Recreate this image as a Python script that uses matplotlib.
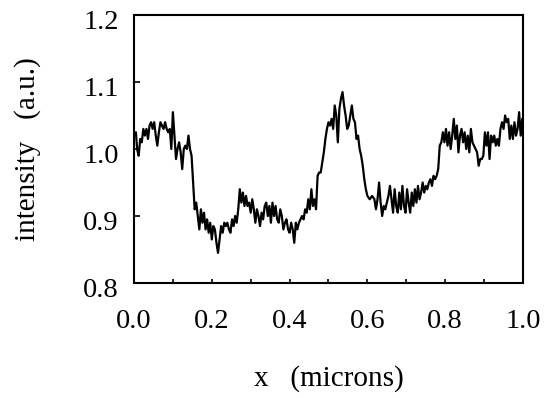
import matplotlib
matplotlib.use("Agg")
import matplotlib.pyplot as plt
import matplotlib.transforms as mtransforms

x_pos = [
    0.000, 0.005, 0.008, 0.012, 0.016, 0.020, 0.024, 0.028, 0.032, 0.036,
    0.040, 0.044, 0.048, 0.052, 0.056, 0.060, 0.064, 0.068, 0.072, 0.076,
    0.080, 0.084, 0.088, 0.092, 0.096, 0.100, 0.104, 0.108, 0.112, 0.116,
    0.120, 0.124, 0.128, 0.132, 0.136, 0.140, 0.144, 0.148, 0.152, 0.156,
    0.160, 0.164, 0.168, 0.172, 0.176, 0.180, 0.184, 0.188, 0.192, 0.196,
    0.200, 0.204, 0.208, 0.212, 0.216, 0.220, 0.224, 0.228, 0.232, 0.236,
    0.240, 0.244, 0.248, 0.252, 0.256, 0.260, 0.264, 0.268, 0.272, 0.276,
    0.280, 0.284, 0.288, 0.292, 0.296, 0.300, 0.304, 0.308, 0.312, 0.316,
    0.320, 0.324, 0.328, 0.332, 0.336, 0.340, 0.344, 0.348, 0.352, 0.356,
    0.360, 0.364, 0.368, 0.372, 0.376, 0.380, 0.384, 0.388, 0.392, 0.396,
    0.400, 0.404, 0.408, 0.412, 0.416, 0.420, 0.424, 0.428, 0.432, 0.436,
    0.440, 0.444, 0.448, 0.452, 0.456, 0.460, 0.464, 0.468, 0.472, 0.476,
    0.480, 0.484, 0.488, 0.492, 0.496, 0.500, 0.504, 0.508, 0.512, 0.516,
    0.520, 0.524, 0.528, 0.532, 0.536, 0.540, 0.544, 0.548, 0.552, 0.556,
    0.560, 0.564, 0.568, 0.572, 0.576, 0.580, 0.584, 0.588, 0.592, 0.596,
    0.600, 0.606, 0.612, 0.618, 0.622, 0.626, 0.630, 0.634, 0.638, 0.642,
    0.646, 0.650, 0.654, 0.658, 0.662, 0.666, 0.670, 0.674, 0.678, 0.682,
    0.686, 0.690, 0.694, 0.698, 0.702, 0.706, 0.710, 0.714, 0.718, 0.722,
    0.726, 0.730, 0.734, 0.738, 0.742, 0.746, 0.750, 0.754, 0.758, 0.762,
    0.766, 0.770, 0.774, 0.778, 0.782, 0.786, 0.790, 0.794, 0.798, 0.802,
    0.806, 0.810, 0.814, 0.818, 0.822, 0.826, 0.830, 0.834, 0.838, 0.842,
    0.846, 0.850, 0.854, 0.858, 0.862, 0.866, 0.870, 0.874, 0.878, 0.882,
    0.886, 0.890, 0.894, 0.898, 0.902, 0.906, 0.910, 0.914, 0.918, 0.922,
    0.926, 0.930, 0.934, 0.938, 0.942, 0.946, 0.950, 0.954, 0.958, 0.962,
    0.966, 0.970, 0.974, 0.978, 0.982, 0.986, 0.990, 0.994, 0.998, 1.000,
]

intensity = [
    1.020, 1.025, 1.000, 0.990, 1.015, 1.010, 1.030, 1.020, 1.030, 1.015,
    1.035, 1.040, 1.030, 1.040, 1.020, 1.005, 1.025, 1.040, 1.035, 1.030,
    1.040, 1.030, 1.025, 1.030, 1.000, 1.055, 1.020, 0.985, 1.000, 1.010,
    0.995, 0.970, 1.000, 1.005, 1.000, 1.020, 1.000, 0.990, 0.950, 0.910,
    0.920, 0.900, 0.880, 0.910, 0.890, 0.905, 0.880, 0.895, 0.875, 0.890,
    0.865, 0.885, 0.880, 0.860, 0.845, 0.865, 0.885, 0.875, 0.890, 0.885,
    0.890, 0.880, 0.875, 0.895, 0.885, 0.900, 0.890, 0.910, 0.940, 0.920,
    0.935, 0.915, 0.930, 0.915, 0.920, 0.905, 0.925, 0.910, 0.890, 0.910,
    0.900, 0.885, 0.905, 0.895, 0.915, 0.920, 0.900, 0.915, 0.890, 0.920,
    0.900, 0.915, 0.895, 0.890, 0.910, 0.900, 0.880, 0.890, 0.895, 0.880,
    0.875, 0.890, 0.880, 0.860, 0.890, 0.880, 0.890, 0.895, 0.900, 0.895,
    0.910, 0.905, 0.925, 0.910, 0.940, 0.915, 0.925, 0.910, 0.960, 0.965,
    0.965, 0.980, 0.995, 1.015, 1.030, 1.040, 1.035, 1.045, 1.030, 1.065,
    1.050, 1.010, 1.060, 1.075, 1.085, 1.065, 1.050, 1.030, 1.035, 1.050,
    1.065, 1.045, 1.040, 1.015, 1.020, 1.000, 0.990, 0.975, 0.955, 0.940,
    0.930, 0.925, 0.930, 0.925, 0.910, 0.925, 0.950, 0.920, 0.900, 0.915,
    0.910, 0.920, 0.930, 0.945, 0.925, 0.905, 0.940, 0.915, 0.905, 0.935,
    0.910, 0.945, 0.915, 0.905, 0.940, 0.920, 0.905, 0.935, 0.915, 0.940,
    0.920, 0.945, 0.925, 0.935, 0.950, 0.935, 0.945, 0.940, 0.950, 0.955,
    0.945, 0.960, 0.955, 0.960, 0.970, 1.005, 1.010, 1.025, 1.010, 1.030,
    1.005, 1.025, 1.000, 1.020, 1.045, 1.015, 1.035, 0.995, 1.020, 1.030,
    1.010, 1.025, 1.000, 1.020, 0.995, 1.030, 1.010, 1.005, 1.000, 0.995,
    0.975, 0.985, 0.985, 0.990, 1.025, 1.005, 1.025, 0.985, 1.020, 1.010,
    1.020, 1.005, 1.015, 1.005, 1.030, 1.040, 1.030, 1.050, 1.040, 1.045,
    1.015, 1.035, 1.015, 1.040, 1.020, 1.030, 1.055, 1.020, 1.045, 1.025,
]

x_ticks = [0.0, 0.2, 0.4, 0.6, 0.8, 1.0]
x_tick_labels = ["0.0", "0.2", "0.4", "0.6", "0.8", "1.0"]
x_minor = [0.1, 0.3, 0.5, 0.7, 0.9]
y_ticks = [0.8, 0.9, 1.0, 1.1, 1.2]
y_tick_labels = ["0.8", "0.9", "1.0", "1.1", "1.2"]

plt.rcParams['font.family'] = ['Liberation Serif', 'DejaVu Serif']

fig = plt.figure(figsize=(5.48, 3.98), dpi=100)
ax = fig.add_axes([0.2445, 0.2889, 0.7099, 0.6734])

ax.plot(x_pos, intensity, color='black', lw=1.6)
ax.set_xlim(0, 1)
ax.set_ylim(0.8, 1.2)

ax.set_xticks(x_ticks)
ax.set_xticklabels(x_tick_labels)
ax.set_xticks(x_minor, minor=True)
ax.set_yticks(y_ticks)
ax.set_yticklabels(y_tick_labels)

ax.tick_params(axis='x', which='both', direction='in', length=3, width=1.2,
               pad=19, labelsize=20.5)
ax.tick_params(axis='y', which='both', direction='in', length=4, width=1.2,
               pad=11, labelsize=20.5)

# tick marks only where the reference shows them
for t in ax.xaxis.get_major_ticks():
    if t.get_loc() in (0.0, 1.0):
        t.tick1line.set_visible(False)
for t in ax.yaxis.get_major_ticks():
    if t.get_loc() in (0.8, 1.2):
        t.tick1line.set_visible(False)

# y tick labels sit slightly below their tick in the reference
offset = mtransforms.ScaledTranslation(0, -4 / 100, fig.dpi_scale_trans)
for lab in ax.get_yticklabels():
    lab.set_transform(lab.get_transform() + offset)

for s in ax.spines.values():
    s.set_linewidth(1.5)

ax.set_xlabel("x   (microns)", fontsize=21, labelpad=22)
ax.set_ylabel("intensity   (a.u.)", fontsize=21, labelpad=30)

fig.savefig("out.png", dpi=100)
